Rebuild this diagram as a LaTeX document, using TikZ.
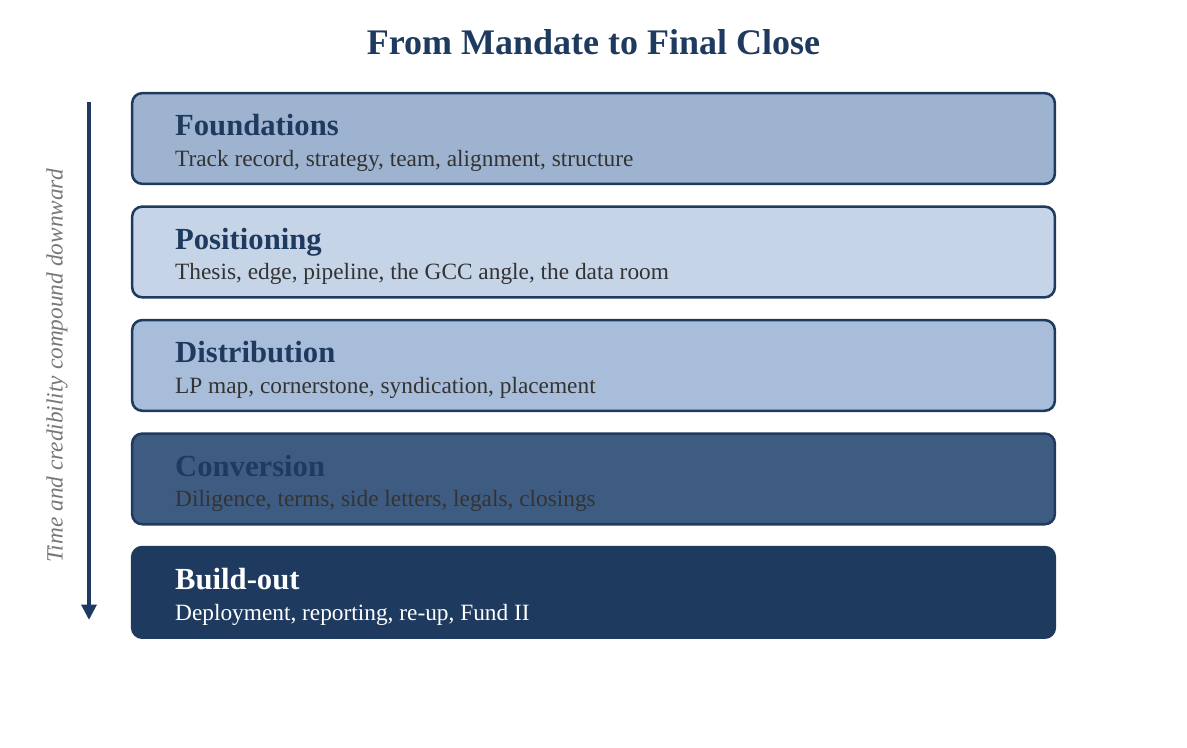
\documentclass[tikz,border=0pt]{standalone}
\usepackage{fontspec}
\setmainfont{Liberation Serif}
\usepackage{tikz}
\usetikzlibrary{positioning}
\usetikzlibrary{arrows.meta}
\definecolor{navy}{HTML}{1F3A5F}
\definecolor{fillA}{HTML}{9DB3D0}
\definecolor{fillB}{HTML}{C6D4E7}
\definecolor{fillC}{HTML}{A8BDD9}
\definecolor{fillD}{HTML}{3E5C82}
\definecolor{subgray}{HTML}{333333}
\definecolor{sidegray}{HTML}{777777}
\newcommand{\headfont}{\fontsize{23}{27}\selectfont\bfseries\rule{0pt}{22.5pt}}
\newcommand{\subfont}{\fontsize{17.5}{23}\selectfont}
\tikzset{	node distance=15.2pt,
	stage/.style={
		draw=navy,
		line width=1.9pt,
		rounded corners=7.5pt,
		minimum width=692pt,
		minimum height=68pt,
		text width=627.5pt,
		inner xsep=32.25pt,
		font=\subfont,
		align=flush left},
	flow/.style={
		draw=navy,
		line width=3.3pt,
		-{Triangle[length=11.5pt,width=11pt]}}
}
\begin{document}
\begin{tikzpicture}[x=0.75pt,y=-0.75pt]
					\useasboundingbox (0,0) rectangle (1187,748);
					\node[text=navy, font=\fontsize{27}{32}\selectfont\bfseries] (T) at (593.5,42) {From Mandate to Final Close};
					\node[stage, fill=fillA] (F) at (593.5,138.5) {{\headfont\color{navy}Foundations}\\{\color{subgray}Track record, strategy, team, alignment, structure}};
					\node[stage, fill=fillB, below=of F] (P) {{\headfont\color{navy}Positioning}\\{\color{subgray}Thesis, edge, pipeline, the GCC angle, the data room}};
					\node[stage, fill=fillC, below=of P] (D) {{\headfont\color{navy}Distribution}\\{\color{subgray}LP map, cornerstone, syndication, placement}};
					\node[stage, fill=fillD, below=of D] (C) {{\headfont\color{navy}Conversion}\\{\color{subgray}Diligence, terms, side letters, legals, closings}};
					\node[stage, fill=navy, below=of C] (B) {{\headfont\color{white}Build-out}\\{\color{white}Deployment, reporting, re-up, Fund II}};
					\coordinate (top) at (89,102);
					\coordinate (bot) at (89,620);
					\draw[flow] (top) -- (bot);
					\node[rotate=90, text=sidegray, font=\fontsize{17.5}{21}\selectfont\itshape] (S) at (57,366) {Time and credibility compound downward};
				\end{tikzpicture}
\end{document}
